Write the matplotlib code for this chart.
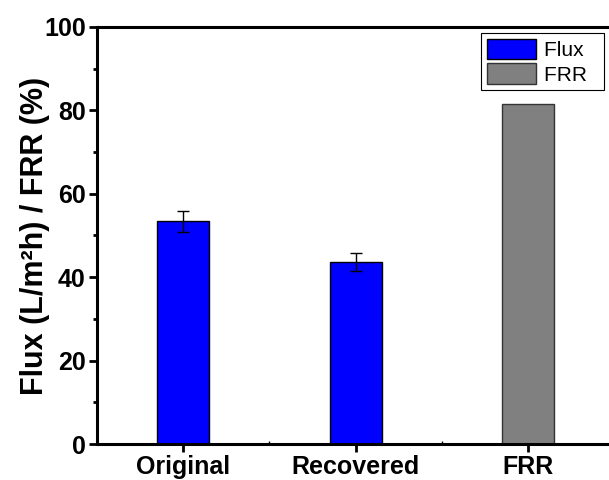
import matplotlib
matplotlib.use("Agg")
import matplotlib.pyplot as plt
from matplotlib.patches import Patch
from matplotlib.ticker import MultipleLocator

plt.rcParams['font.family'] = ['Liberation Sans', 'DejaVu Sans']

categories = ["Original", "Recovered", "FRR"]
flux_values = [53.4, 43.6]
flux_errors = [2.5, 2.2]
frr_value = 81.5

fig = plt.figure(figsize=(6.09, 4.8), dpi=100)
ax = fig.add_axes([0.159, 0.075, 0.850, 0.869])

x = [1, 2, 3]
ax.bar(x[:2], flux_values, width=0.3, color="#0000ff", edgecolor="black",
       linewidth=1.0, yerr=flux_errors, capsize=4,
       error_kw=dict(elinewidth=1.0, capthick=1.0, ecolor="black"))
ax.bar(x[2], frr_value, width=0.3, color="#808080", edgecolor="#333333",
       linewidth=1.0)

ax.set_xlim(0.5, 3.5)
ax.set_ylim(0, 100)
ax.set_xticks(x)
ax.set_xticklabels(categories, fontsize=18, fontweight="bold")
ax.xaxis.set_minor_locator(MultipleLocator(0.5))
ax.yaxis.set_major_locator(MultipleLocator(20))
ax.yaxis.set_minor_locator(MultipleLocator(10))
for lbl in ax.get_yticklabels():
    lbl.set_fontsize(18)
    lbl.set_fontweight("bold")

ax.tick_params(axis="both", which="major", direction="out", width=2, length=6, pad=2)
ax.tick_params(axis="y", which="minor", direction="out", width=2, length=3)
ax.tick_params(axis="x", which="minor", direction="in", width=1, length=2)
ax.tick_params(top=False, right=False)
for side in ["left", "bottom", "top", "right"]:
    ax.spines[side].set_linewidth(2.2)

ax.set_ylabel("Flux (L/m²h) / FRR (%)", fontsize=22, fontweight="bold", labelpad=-4)

handles = [Patch(facecolor="#0000ff", edgecolor="black", label="Flux  "),
           Patch(facecolor="#808080", edgecolor="#333333", label="FRR  ")]
leg = ax.legend(handles=handles, loc="upper right", bbox_to_anchor=(0.9795, 0.9856),
                fontsize=15, fancybox=False, edgecolor="black", framealpha=1,
                handlelength=2.35, handleheight=1.15, handletextpad=0.35,
                labelspacing=0.15, borderpad=0.28, borderaxespad=0)
leg.get_frame().set_linewidth(0.8)

fig.savefig("out.png", dpi=100)
